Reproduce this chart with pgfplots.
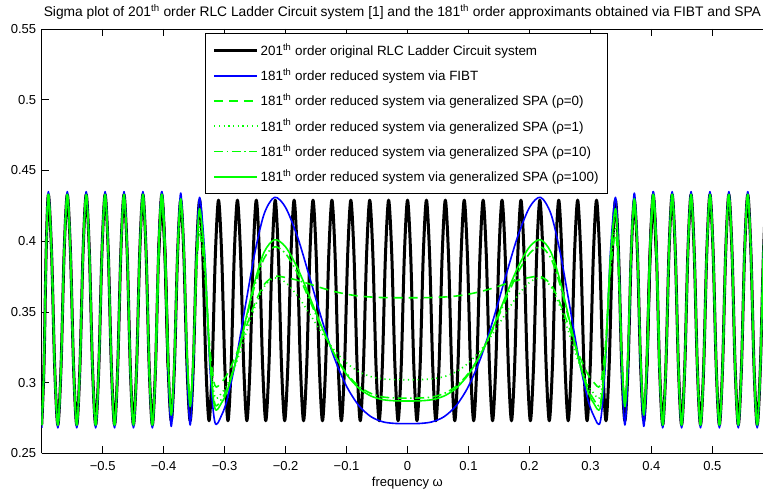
\documentclass[border=0pt]{standalone}
\usepackage{fontspec}
\setmainfont{Liberation Sans}
\usepackage{pgfplots}
\usepackage{pgfplotstable}
\pgfplotsset{compat=1.18}
\definecolor{mgreen}{rgb}{0,1,0}
\definecolor{mblue}{rgb}{0,0,1}

% original system, central part (x y)
\pgfplotstableread[row sep=\\]{
x y\\
-0.4082 0.390\\
-0.4030 0.429\\ -0.3978 0.390\\ -0.3927 0.312\\ -0.3875 0.273\\ -0.3823 0.312\\ -0.3772 0.390\\
-0.3720 0.429\\ -0.3668 0.390\\ -0.3617 0.312\\ -0.3565 0.273\\ -0.3513 0.312\\ -0.3462 0.390\\
-0.3410 0.429\\ -0.3358 0.390\\ -0.3307 0.312\\ -0.3255 0.273\\ -0.3203 0.312\\ -0.3152 0.390\\
-0.3100 0.429\\ -0.3048 0.390\\ -0.2997 0.312\\ -0.2945 0.273\\ -0.2893 0.312\\ -0.2842 0.390\\
-0.2790 0.429\\ -0.2738 0.390\\ -0.2687 0.312\\ -0.2635 0.273\\ -0.2583 0.312\\ -0.2532 0.390\\
-0.2480 0.429\\ -0.2428 0.390\\ -0.2377 0.312\\ -0.2325 0.273\\ -0.2273 0.312\\ -0.2222 0.390\\
-0.2170 0.429\\ -0.2118 0.390\\ -0.2067 0.312\\ -0.2015 0.273\\ -0.1963 0.312\\ -0.1912 0.390\\
-0.1860 0.429\\ -0.1808 0.390\\ -0.1757 0.312\\ -0.1705 0.273\\ -0.1653 0.312\\ -0.1602 0.390\\
-0.1550 0.429\\ -0.1498 0.390\\ -0.1447 0.312\\ -0.1395 0.273\\ -0.1343 0.312\\ -0.1292 0.390\\
-0.1240 0.429\\ -0.1188 0.390\\ -0.1137 0.312\\ -0.1085 0.273\\ -0.1033 0.312\\ -0.0982 0.390\\
-0.0930 0.429\\ -0.0878 0.390\\ -0.0827 0.312\\ -0.0775 0.273\\ -0.0723 0.312\\ -0.0672 0.390\\
-0.0620 0.429\\ -0.0568 0.390\\ -0.0517 0.312\\ -0.0465 0.273\\ -0.0413 0.312\\ -0.0362 0.390\\
-0.0310 0.429\\ -0.0258 0.390\\ -0.0207 0.312\\ -0.0155 0.273\\ -0.0103 0.312\\ -0.0052 0.390\\
0.0000 0.429\\ 0.0052 0.390\\ 0.0103 0.312\\ 0.0155 0.273\\ 0.0207 0.312\\ 0.0258 0.390\\
0.0310 0.429\\ 0.0362 0.390\\ 0.0413 0.312\\ 0.0465 0.273\\ 0.0517 0.312\\ 0.0568 0.390\\
0.0620 0.429\\ 0.0672 0.390\\ 0.0723 0.312\\ 0.0775 0.273\\ 0.0827 0.312\\ 0.0878 0.390\\
0.0930 0.429\\ 0.0982 0.390\\ 0.1033 0.312\\ 0.1085 0.273\\ 0.1137 0.312\\ 0.1188 0.390\\
0.1240 0.429\\ 0.1292 0.390\\ 0.1343 0.312\\ 0.1395 0.273\\ 0.1447 0.312\\ 0.1498 0.390\\
0.1550 0.429\\ 0.1602 0.390\\ 0.1653 0.312\\ 0.1705 0.273\\ 0.1757 0.312\\ 0.1808 0.390\\
0.1860 0.429\\ 0.1912 0.390\\ 0.1963 0.312\\ 0.2015 0.273\\ 0.2067 0.312\\ 0.2118 0.390\\
0.2170 0.429\\ 0.2222 0.390\\ 0.2273 0.312\\ 0.2325 0.273\\ 0.2377 0.312\\ 0.2428 0.390\\
0.2480 0.429\\ 0.2532 0.390\\ 0.2583 0.312\\ 0.2635 0.273\\ 0.2687 0.312\\ 0.2738 0.390\\
0.2790 0.429\\ 0.2842 0.390\\ 0.2893 0.312\\ 0.2945 0.273\\ 0.2997 0.312\\ 0.3048 0.390\\
0.3100 0.429\\ 0.3152 0.390\\ 0.3203 0.312\\ 0.3255 0.273\\ 0.3307 0.312\\ 0.3358 0.390\\
0.3410 0.429\\ 0.3462 0.390\\ 0.3513 0.312\\ 0.3565 0.273\\ 0.3617 0.312\\ 0.3668 0.390\\
0.3720 0.429\\ 0.3772 0.390\\ 0.3823 0.312\\ 0.3875 0.273\\ 0.3927 0.312\\ 0.3978 0.390\\
0.4030 0.429\\ 0.4082 0.390\\
}\blackc

% outer oscillation, left (g = original/green, b = FIBT)
\pgfplotstableread[row sep=\\]{
x g b\\
-0.6000 0.270 0.268\\ -0.5963 0.311 0.310\\ -0.5927 0.392 0.393\\
-0.5890 0.433 0.435\\ -0.5838 0.392 0.393\\ -0.5787 0.311 0.310\\ -0.5735 0.270 0.268\\ -0.5683 0.311 0.310\\ -0.5632 0.392 0.393\\
-0.5580 0.433 0.435\\ -0.5528 0.392 0.393\\ -0.5477 0.311 0.310\\ -0.5425 0.270 0.268\\ -0.5373 0.311 0.310\\ -0.5322 0.392 0.393\\
-0.5270 0.433 0.435\\ -0.5218 0.392 0.393\\ -0.5167 0.311 0.310\\ -0.5115 0.270 0.268\\ -0.5063 0.311 0.310\\ -0.5012 0.392 0.393\\
-0.4960 0.433 0.435\\ -0.4908 0.392 0.393\\ -0.4857 0.311 0.310\\ -0.4805 0.270 0.268\\ -0.4753 0.311 0.310\\ -0.4702 0.392 0.393\\
-0.4650 0.433 0.435\\ -0.4598 0.392 0.393\\ -0.4547 0.311 0.310\\ -0.4495 0.270 0.268\\ -0.4443 0.311 0.310\\ -0.4392 0.392 0.393\\
-0.4340 0.433 0.435\\ -0.4288 0.392 0.393\\ -0.4237 0.311 0.310\\ -0.4185 0.270 0.268\\ -0.4133 0.311 0.310\\ -0.4082 0.392 0.393\\
-0.4030 0.433 0.435\\ -0.3978 0.392 0.393\\ -0.3927 0.311 0.310\\
}\outL

% outer oscillation, right
\pgfplotstableread[row sep=\\]{
x g b\\
0.3927 0.311 0.310\\ 0.3978 0.392 0.393\\
0.4030 0.433 0.435\\ 0.4082 0.392 0.393\\ 0.4133 0.311 0.310\\ 0.4185 0.270 0.268\\ 0.4237 0.311 0.310\\ 0.4288 0.392 0.393\\
0.4340 0.433 0.435\\ 0.4392 0.392 0.393\\ 0.4443 0.311 0.310\\ 0.4495 0.270 0.268\\ 0.4547 0.311 0.310\\ 0.4598 0.392 0.393\\
0.4650 0.433 0.435\\ 0.4702 0.392 0.393\\ 0.4753 0.311 0.310\\ 0.4805 0.270 0.268\\ 0.4857 0.311 0.310\\ 0.4908 0.392 0.393\\
0.4960 0.433 0.435\\ 0.5012 0.392 0.393\\ 0.5063 0.311 0.310\\ 0.5115 0.270 0.268\\ 0.5167 0.311 0.310\\ 0.5218 0.392 0.393\\
0.5270 0.433 0.435\\ 0.5322 0.392 0.393\\ 0.5373 0.311 0.310\\ 0.5425 0.270 0.268\\ 0.5477 0.311 0.310\\ 0.5528 0.392 0.393\\
0.5580 0.433 0.435\\ 0.5632 0.392 0.393\\ 0.5683 0.311 0.310\\ 0.5735 0.270 0.268\\ 0.5787 0.311 0.310\\ 0.5838 0.392 0.393\\
0.5890 0.433 0.435\\ 0.5942 0.392 0.393\\
}\outR

% central part of the reduced systems: b = FIBT, d = SPA rho=0, o = rho=1, c = rho=10, g = rho=100
\pgfplotstableread[row sep=\\]{
x b g d o c\\
-0.4133 0.310 0.311 0.311 0.311 0.311\\
-0.4082 0.393 0.392 0.392 0.392 0.392\\
-0.4030 0.435 0.433 0.430 0.431 0.432\\
-0.3978 0.393 0.394 0.3925 0.393 0.3935\\
-0.3927 0.310 0.316 0.3175 0.317 0.3165\\
-0.3875 0.269 0.277 0.280 0.279 0.278\\
-0.3823 0.3103 0.3153 0.3163 0.316 0.3158\\
-0.3772 0.3928 0.3918 0.3888 0.390 0.3913\\
-0.3720 0.434 0.430 0.425 0.427 0.429\\
-0.3668 0.393 0.3933 0.3908 0.3915 0.3928\\
-0.3617 0.311 0.3198 0.3223 0.3205 0.3203\\
-0.3565 0.270 0.283 0.288 0.285 0.284\\
-0.3513 0.3103 0.318 0.3173 0.3163 0.318\\
-0.3462 0.3908 0.388 0.3758 0.3788 0.386\\
-0.3410 0.431 0.423 0.405 0.410 0.420\\
-0.3327 0.3913 0.3878 0.3783 0.380 0.3863\\
-0.3243 0.3118 0.3173 0.3248 0.320 0.3188\\
-0.3160 0.272 0.282 0.298 0.290 0.285\\
-0.305 0.2769 0.2857 0.3004 0.2926 0.2884\\
-0.295 0.2894 0.2950 0.3064 0.2992 0.2971\\
-0.280 0.3193 0.3174 0.3209 0.3150 0.3180\\
-0.265 0.3566 0.3453 0.3390 0.3347 0.3441\\
-0.250 0.3927 0.3723 0.3564 0.3538 0.3692\\
-0.235 0.4195 0.3924 0.3694 0.3679 0.3880\\
-0.218 0.4310 0.4010 0.3750 0.3740 0.3960\\
-0.200 0.4238 0.3959 0.3743 0.3708 0.3912\\
-0.180 0.4024 0.3806 0.3723 0.3611 0.3769\\
-0.160 0.3736 0.3601 0.3696 0.3482 0.3576\\
-0.140 0.3438 0.3388 0.3668 0.3347 0.3377\\
-0.120 0.3174 0.3201 0.3644 0.3229 0.3201\\
-0.100 0.2974 0.3058 0.3625 0.3139 0.3066\\
-0.080 0.2838 0.2961 0.3612 0.3077 0.2975\\
-0.060 0.2759 0.2905 0.3605 0.3042 0.2923\\
-0.040 0.2722 0.2879 0.3601 0.3026 0.2898\\
-0.020 0.2711 0.2871 0.3600 0.3021 0.2891\\
0.000 0.2710 0.2870 0.3600 0.3020 0.2890\\
0.020 0.2711 0.2871 0.3600 0.3021 0.2891\\
0.040 0.2722 0.2879 0.3601 0.3026 0.2898\\
0.060 0.2759 0.2905 0.3605 0.3042 0.2923\\
0.080 0.2838 0.2961 0.3612 0.3077 0.2975\\
0.100 0.2974 0.3058 0.3625 0.3139 0.3066\\
0.120 0.3174 0.3201 0.3644 0.3229 0.3201\\
0.140 0.3438 0.3388 0.3668 0.3347 0.3377\\
0.160 0.3736 0.3601 0.3696 0.3482 0.3576\\
0.180 0.4024 0.3806 0.3723 0.3611 0.3769\\
0.200 0.4238 0.3959 0.3743 0.3708 0.3912\\
0.218 0.4310 0.4010 0.3750 0.3740 0.3960\\
0.235 0.4195 0.3924 0.3694 0.3679 0.3880\\
0.250 0.3927 0.3723 0.3564 0.3538 0.3692\\
0.265 0.3566 0.3453 0.3390 0.3347 0.3441\\
0.280 0.3193 0.3174 0.3209 0.3150 0.3180\\
0.295 0.2894 0.2950 0.3064 0.2992 0.2971\\
0.305 0.2769 0.2857 0.3004 0.2926 0.2884\\
0.3160 0.272 0.282 0.298 0.290 0.285\\
0.3243 0.3118 0.3173 0.3248 0.320 0.3188\\
0.3327 0.3913 0.3878 0.3783 0.380 0.3863\\
0.3410 0.431 0.423 0.405 0.410 0.420\\
0.3462 0.3908 0.388 0.3758 0.3788 0.386\\
0.3513 0.3103 0.318 0.3173 0.3163 0.318\\
0.3565 0.270 0.283 0.288 0.285 0.284\\
0.3617 0.311 0.3198 0.3223 0.3205 0.3203\\
0.3668 0.393 0.3933 0.3908 0.3915 0.3928\\
0.3720 0.434 0.430 0.425 0.427 0.429\\
0.3772 0.3928 0.3918 0.3888 0.390 0.3913\\
0.3823 0.3103 0.3153 0.3163 0.316 0.3158\\
0.3875 0.269 0.277 0.280 0.279 0.278\\
0.3927 0.310 0.316 0.3175 0.317 0.3165\\
0.3978 0.393 0.394 0.3925 0.393 0.3935\\
0.4030 0.435 0.433 0.430 0.431 0.432\\
0.4082 0.393 0.392 0.392 0.392 0.392\\
0.4133 0.310 0.311 0.311 0.311 0.311\\
}\cen

\begin{document}
\fontsize{13pt}{15pt}\selectfont
\begin{tikzpicture}
\begin{axis}[
  scale only axis, width=721.3pt, height=424.3pt,
  xmin=-0.6, xmax=0.583, ymin=0.25, ymax=0.55,
  axis y line*=left,
  axis line style={line width=0.6pt},
  tick style={black, line width=0.6pt},
  major tick length=7pt,
  xtick={-0.5,-0.4,-0.3,-0.2,-0.1,0,0.1,0.2,0.3,0.4,0.5},
  xticklabels={−0.5,−0.4,−0.3,−0.2,−0.1,0,0.1,0.2,0.3,0.4,0.5},
  ytick={0.25,0.3,0.35,0.4,0.45,0.5,0.55},
  yticklabels={0.25,0.3,0.35,0.4,0.45,0.5,0.55},
  xticklabel style={yshift=-4pt},
  yticklabel style={xshift=-1pt},
  title={Sigma plot of 201\textsuperscript{th} order RLC Ladder Circuit system [1] and the 181\textsuperscript{th} order approximants obtained via FIBT and SPA},
  title style={yshift=-1pt, font=\fontsize{13.8pt}{15pt}\selectfont},
  xlabel={frequency ω},
  xlabel style={at={(ticklabel cs:0.507)}, anchor=north, yshift=3pt},
  legend cell align=left,
  legend image code/.code={\draw[#1] (0pt,0pt) -- (43pt,0pt);},
  legend style={at={(axis cs:-0.3316,0.5472)}, anchor=north west,
    line width=0.8pt, fill=white,
    font=\fontsize{13.4pt}{15pt}\selectfont,
    inner xsep=7pt, inner ysep=8pt, row sep=7.3pt},
  every axis plot/.append style={line join=round, forget plot},
]
\coordinate (sw) at (rel axis cs:0,0);
\coordinate (ne) at (rel axis cs:1,1);

% original system
\addplot[black, line width=3pt, smooth] table[x=x,y=g] {\outL};
\addplot[black, line width=3pt, smooth] table[x=x,y=y] {\blackc};
\addplot[black, line width=3pt, smooth] table[x=x,y=g] {\outR};

% FIBT
\addplot[mblue, line width=1.6pt, smooth] table[x=x,y=b] {\outL};
\addplot[mblue, line width=1.6pt, smooth] table[x=x,y=b] {\cen};
\addplot[mblue, line width=1.6pt, smooth] table[x=x,y=b] {\outR};

% SPA rho=0
\addplot[mgreen, line width=1.6pt, dash pattern=on 9pt off 6pt, smooth] table[x=x,y=g] {\outL};
\addplot[mgreen, line width=1.6pt, dash pattern=on 9pt off 6pt, smooth] table[x=x,y=d] {\cen};
\addplot[mgreen, line width=1.6pt, dash pattern=on 9pt off 6pt, smooth] table[x=x,y=g] {\outR};

% SPA rho=1
\addplot[mgreen, line width=1.6pt, dash pattern=on 1.2pt off 3.5pt, smooth] table[x=x,y=g] {\outL};
\addplot[mgreen, line width=1.6pt, dash pattern=on 1.2pt off 3.5pt, smooth] table[x=x,y=o] {\cen};
\addplot[mgreen, line width=1.6pt, dash pattern=on 1.2pt off 3.5pt, smooth] table[x=x,y=g] {\outR};

% SPA rho=10
\addplot[mgreen, line width=1.6pt, dash pattern=on 9pt off 3.5pt on 1.5pt off 3.5pt, smooth] table[x=x,y=g] {\outL};
\addplot[mgreen, line width=1.6pt, dash pattern=on 9pt off 3.5pt on 1.5pt off 3.5pt, smooth] table[x=x,y=c] {\cen};
\addplot[mgreen, line width=1.6pt, dash pattern=on 9pt off 3.5pt on 1.5pt off 3.5pt, smooth] table[x=x,y=g] {\outR};

% SPA rho=100
\addplot[mgreen, line width=1.6pt, smooth] table[x=x,y=g] {\outL};
\addplot[mgreen, line width=1.6pt, smooth] table[x=x,y=g] {\cen};
\addplot[mgreen, line width=1.6pt, smooth] table[x=x,y=g] {\outR};

\addlegendimage{color=black, draw=black, line width=3pt}
\addlegendentry{201\textsuperscript{th} order original RLC Ladder Circuit system}
\addlegendimage{color=mblue, draw=mblue, line width=1.8pt}
\addlegendentry{181\textsuperscript{th} order reduced system via FIBT}
\addlegendimage{color=mgreen, draw=mgreen, line width=1.8pt, dash pattern=on 9pt off 6pt}
\addlegendentry{181\textsuperscript{th} order reduced system via generalized SPA (ρ=0)}
\addlegendimage{color=mgreen, draw=mgreen, line width=1.8pt, dash pattern=on 1.2pt off 3.5pt}
\addlegendentry{181\textsuperscript{th} order reduced system via generalized SPA (ρ=1)}
\addlegendimage{color=mgreen, draw=mgreen, line width=1.8pt, dash pattern=on 9pt off 3.5pt on 1.5pt off 3.5pt}
\addlegendentry{181\textsuperscript{th} order reduced system via generalized SPA (ρ=10)}
\addlegendimage{color=mgreen, draw=mgreen, line width=1.8pt}
\addlegendentry{181\textsuperscript{th} order reduced system via generalized SPA (ρ=100)\hspace{23pt}}
\end{axis}
\pgfresetboundingbox
\path[use as bounding box] ([xshift=-41.7pt,yshift=-36.7pt]sw) rectangle ([yshift=29pt]ne);
\end{tikzpicture}
\end{document}
